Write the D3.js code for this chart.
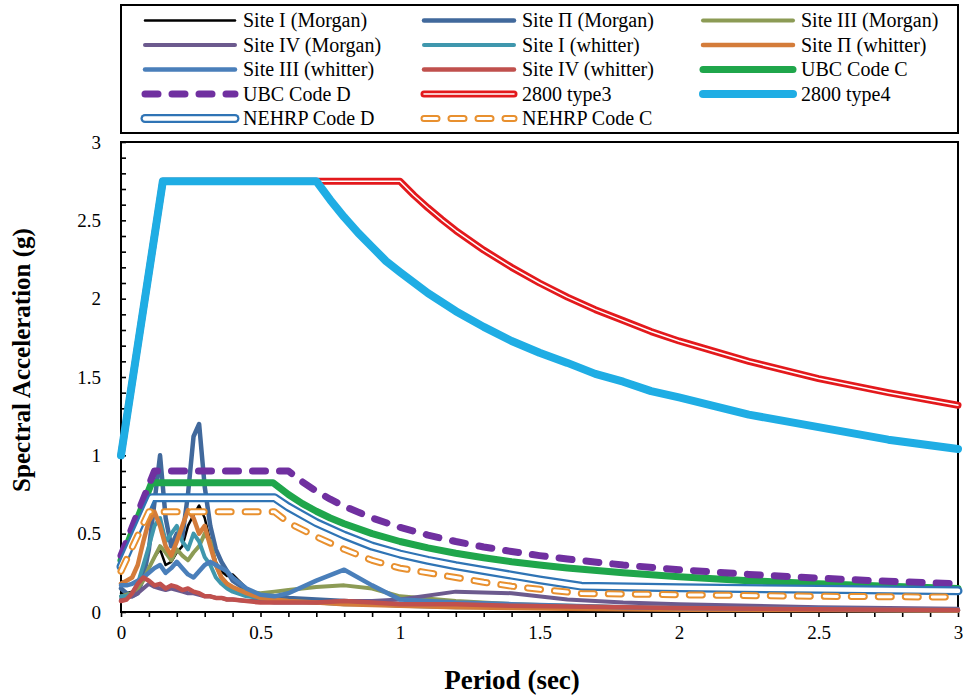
<!DOCTYPE html>
<html>
<head>
<meta charset="utf-8">
<script src="https://cdn.jsdelivr.net/npm/d3@7"></script>
<style>
  body { margin: 0; background: #fff; }
  svg text { font-family: "Liberation Serif", "Times New Roman", Times, "DejaVu Serif", serif; fill: #000; }
</style>
</head>
<body>
<svg id="chart"></svg>
<script>
// periods of the recorded site spectra (sec)
var sitePeriods = [0, 0.02, 0.04, 0.06, 0.08, 0.1, 0.12, 0.14, 0.16, 0.18, 0.2, 0.22, 0.24, 0.26, 0.28, 0.3,
   0.32, 0.34, 0.36, 0.38, 0.4, 0.45, 0.5, 0.55, 0.6, 0.7, 0.8, 0.9, 1.0, 1.2, 1.4, 1.6, 1.8, 2.0, 2.5, 3.0];

// spectral acceleration (g)
var site1Morgan = [0.12, 0.12, 0.13, 0.15, 0.2, 0.28, 0.35, 0.4, 0.3, 0.32, 0.38, 0.42, 0.55, 0.62, 0.68, 0.6,
   0.45, 0.32, 0.26, 0.23, 0.24, 0.15, 0.11, 0.1, 0.09, 0.07, 0.06, 0.05, 0.04, 0.035, 0.03, 0.025, 0.02, 0.018, 0.014, 0.01];
var site2Morgan = [0.15, 0.12, 0.1, 0.12, 0.22, 0.4, 0.7, 1.0, 0.6, 0.42, 0.5, 0.48, 0.75, 1.12, 1.2, 0.8,
   0.55, 0.4, 0.32, 0.26, 0.2, 0.14, 0.11, 0.1, 0.09, 0.08, 0.07, 0.06, 0.05, 0.04, 0.035, 0.03, 0.025, 0.02, 0.015, 0.01];
var site3Morgan = [0.1, 0.11, 0.12, 0.15, 0.2, 0.28, 0.35, 0.42, 0.38, 0.33, 0.4, 0.36, 0.33, 0.38, 0.42, 0.5,
   0.45, 0.3, 0.22, 0.18, 0.15, 0.13, 0.12, 0.13, 0.14, 0.16, 0.17, 0.15, 0.1, 0.07, 0.05, 0.04, 0.03, 0.025, 0.02, 0.015];
var site4Morgan = [0.08, 0.09, 0.1, 0.12, 0.15, 0.18, 0.16, 0.15, 0.14, 0.15, 0.14, 0.13, 0.12, 0.12, 0.11, 0.1,
   0.1, 0.09, 0.09, 0.08, 0.08, 0.07, 0.07, 0.06, 0.06, 0.06, 0.07, 0.07, 0.08, 0.13, 0.12, 0.08, 0.06, 0.05, 0.03, 0.02];
var site1Whitter = [0.1, 0.1, 0.12, 0.18, 0.3, 0.42, 0.55, 0.6, 0.45, 0.5, 0.55, 0.45, 0.4, 0.5, 0.45, 0.35,
   0.3, 0.22, 0.18, 0.15, 0.13, 0.1, 0.09, 0.08, 0.07, 0.06, 0.05, 0.05, 0.04, 0.03, 0.03, 0.025, 0.02, 0.018, 0.014, 0.01];
var site2Whitter = [0.18, 0.2, 0.22, 0.3, 0.45, 0.58, 0.64, 0.55, 0.42, 0.36, 0.45, 0.55, 0.65, 0.6, 0.5, 0.55,
   0.42, 0.3, 0.22, 0.18, 0.16, 0.12, 0.09, 0.08, 0.07, 0.06, 0.05, 0.045, 0.04, 0.03, 0.025, 0.02, 0.018, 0.015, 0.012, 0.01];
var site3Whitter = [0.17, 0.17, 0.18, 0.2, 0.22, 0.25, 0.28, 0.3, 0.25, 0.28, 0.32, 0.28, 0.24, 0.22, 0.26, 0.3,
   0.32, 0.3, 0.28, 0.26, 0.22, 0.15, 0.11, 0.1, 0.12, 0.2, 0.27, 0.17, 0.08, 0.06, 0.05, 0.04, 0.03, 0.025, 0.02, 0.015];
var site4Whitter = [0.07, 0.08, 0.12, 0.18, 0.22, 0.2, 0.17, 0.18, 0.15, 0.17, 0.16, 0.14, 0.15, 0.13, 0.12, 0.1,
   0.1, 0.09, 0.09, 0.08, 0.08, 0.07, 0.06, 0.06, 0.06, 0.06, 0.07, 0.06, 0.05, 0.05, 0.04, 0.035, 0.03, 0.025, 0.018, 0.012];

// design code spectra
var ubcCPeriods = [0, 0.11, 0.545, 0.6, 0.65, 0.7, 0.75, 0.8, 0.9, 1.0, 1.1, 1.2, 1.3, 1.4, 1.5, 1.6, 1.8, 2.0, 2.25, 2.5, 2.75, 3.0];
var ubcCValues = [0.33, 0.825, 0.825, 0.75, 0.692, 0.643, 0.6, 0.563, 0.5, 0.45, 0.409, 0.375, 0.346, 0.321, 0.3, 0.281, 0.25, 0.225, 0.2, 0.18, 0.164, 0.15];
var ubcDPeriods = [0, 0.12, 0.6, 0.65, 0.7, 0.75, 0.8, 0.9, 1.0, 1.1, 1.2, 1.3, 1.4, 1.5, 1.6, 1.8, 2.0, 2.25, 2.5, 2.75, 3.0];
var ubcDValues = [0.36, 0.9, 0.9, 0.831, 0.771, 0.72, 0.675, 0.6, 0.54, 0.491, 0.45, 0.415, 0.386, 0.36, 0.338, 0.3, 0.27, 0.24, 0.216, 0.196, 0.18];
var type3Periods = [0, 0.15, 1.0, 1.05, 1.1, 1.15, 1.2, 1.3, 1.4, 1.5, 1.6, 1.7, 1.8, 1.9, 2.0, 2.25, 2.5, 2.75, 3.0];
var type3Values = [1.0, 2.75, 2.75, 2.66, 2.58, 2.505, 2.435, 2.31, 2.2, 2.1, 2.01, 1.93, 1.86, 1.79, 1.73, 1.6, 1.49, 1.4, 1.32];
var type4Periods = [0, 0.15, 0.7, 0.75, 0.8, 0.85, 0.9, 0.95, 1.0, 1.1, 1.2, 1.3, 1.4, 1.5, 1.6, 1.7, 1.8, 1.9, 2.0, 2.25, 2.5, 2.75, 3.0];
var type4Values = [1.0, 2.75, 2.75, 2.63, 2.52, 2.42, 2.33, 2.24, 2.17, 2.035, 1.92, 1.82, 1.73, 1.655, 1.59, 1.52, 1.47, 1.41, 1.37, 1.26, 1.18, 1.1, 1.04];
var nehrpDPeriods = [0, 0.11, 0.55, 0.6, 0.7, 0.8, 0.9, 1.0, 1.1, 1.2, 1.3, 1.4, 1.5, 1.65, 2.0, 2.5, 3.0];
var nehrpDValues = [0.29, 0.73, 0.73, 0.67, 0.57, 0.49, 0.42, 0.37, 0.33, 0.295, 0.265, 0.235, 0.205, 0.165, 0.155, 0.145, 0.135];
var nehrpCPeriods = [0, 0.1, 0.55, 0.6, 0.7, 0.8, 0.9, 1.0, 1.1, 1.2, 1.3, 1.4, 1.5, 1.65, 2.0, 2.5, 3.0];
var nehrpCValues = [0.26, 0.64, 0.64, 0.57, 0.48, 0.4, 0.33, 0.28, 0.25, 0.22, 0.19, 0.165, 0.145, 0.118, 0.11, 0.1, 0.095];

var xTickLabels = ["0", "0.5", "1", "1.5", "2", "2.5", "3"];
var yTickLabels = ["0", "0.5", "1", "1.5", "2", "2.5", "3"];

// series table in legend order (later ones drawn on top)
var series = [
   { name: "Site I (Morgan)", t: sitePeriods, v: site1Morgan, color: "#000000", width: 2.5 },
   { name: "Site \u03A0 (Morgan)", t: sitePeriods, v: site2Morgan, color: "#41699c", width: 4.5 },
   { name: "Site III (Morgan)", t: sitePeriods, v: site3Morgan, color: "#8c9b55", width: 4 },
   { name: "Site IV (Morgan)", t: sitePeriods, v: site4Morgan, color: "#6c5a8e", width: 4 },
   { name: "Site I (whitter)", t: sitePeriods, v: site1Whitter, color: "#3f97ad", width: 4 },
   { name: "Site \u03A0 (whitter)", t: sitePeriods, v: site2Whitter, color: "#d47c3a", width: 4.5 },
   { name: "Site III (whitter)", t: sitePeriods, v: site3Whitter, color: "#4a7fba", width: 4.5 },
   { name: "Site IV (whitter)", t: sitePeriods, v: site4Whitter, color: "#c0504d", width: 4.5 },
   { name: "UBC Code C", t: ubcCPeriods, v: ubcCValues, color: "#1fa64b", width: 7 },
   { name: "UBC Code D", t: ubcDPeriods, v: ubcDValues, color: "#7030a0", width: 7, dash: "13,14" },
   { name: "2800 type3", t: type3Periods, v: type3Values, color: "#e3191c", width: 7, inner: 1.5 },
   { name: "2800 type4", t: type4Periods, v: type4Values, color: "#1fade4", width: 8 },
   { name: "NEHRP Code D", t: nehrpDPeriods, v: nehrpDValues, color: "#2f74b5", width: 9, inner: 4.5 },
   { name: "NEHRP Code C", t: nehrpCPeriods, v: nehrpCValues, color: "#e8902f", width: 7, inner: 3, dash: "13,14" }
];

var serif = "'Liberation Serif', 'Times New Roman', Times, 'DejaVu Serif', serif";
var svgWidth = 963, svgHeight = 697;
var margin = { top: 142, right: 5, bottom: 85, left: 121 };
var width = svgWidth - margin.left - margin.right,
   height = svgHeight - margin.top - margin.bottom;

var svg = d3.select("svg#chart")
   .attr("width", svgWidth).attr("height", svgHeight)
   .attr("font-family", serif);
var plot = svg.append("g").attr("transform", `translate(${margin.left}, ${margin.top})`);

var x = d3.scaleLinear().domain([0, 3]).range([0, width]);
var y = d3.scaleLinear().domain([0, 3]).range([height, 0]);

var minorTicks = d3.range(0, 31).map(function (i) { return i / 10; });
var majorTicks = xTickLabels.map(Number);

// X axis: outward ticks every 0.1, labels every 0.5
plot.append("g")
   .attr("transform", "translate(0," + height + ")")
   .call(d3.axisBottom(x).tickValues(minorTicks).tickSize(5).tickFormat(""))
   .call(function (g) { g.select(".domain").remove(); });
plot.append("g")
   .attr("transform", "translate(0," + height + ")")
   .call(d3.axisBottom(x).tickValues(majorTicks).tickSize(0).tickPadding(14)
      .tickFormat(function (d, i) { return xTickLabels[i]; }))
   .call(function (g) {
      g.attr("font-family", serif).attr("font-size", 19);
      g.select(".domain").remove();
   });

// Y axis: inward ticks every 0.1, labels every 0.5
plot.append("g")
   .call(d3.axisLeft(y).tickValues(minorTicks).tickSize(-5).tickFormat(""))
   .call(function (g) { g.select(".domain").remove(); });
plot.append("g")
   .call(d3.axisLeft(y).tickValues(yTickLabels.map(Number)).tickSize(0).tickPadding(20)
      .tickFormat(function (d, i) { return yTickLabels[i]; }))
   .call(function (g) {
      g.attr("font-family", serif).attr("font-size", 19);
      g.select(".domain").remove();
   });
plot.selectAll(".tick line").attr("stroke", "#000").attr("stroke-width", 1.6);

// plot frame
plot.append("rect")
   .attr("width", width).attr("height", height)
   .attr("fill", "none").attr("stroke", "#000").attr("stroke-width", 2);

var line = d3.line()
   .x(function (d) { return x(d[0]); })
   .y(function (d) { return y(d[1]); });

function drawStroke(sel, s) {
   sel.attr("fill", "none")
      .attr("stroke", s.color)
      .attr("stroke-width", s.width)
      .attr("stroke-linejoin", "round")
      .attr("stroke-linecap", "round");
   if (s.dash) sel.attr("stroke-dasharray", s.dash);
}

series.forEach(function (s) {
   var pts = s.t.map(function (t, i) { return [t, s.v[i]]; });
   plot.append("path").datum(pts).attr("d", line).call(drawStroke, s);
   if (s.inner) {
      plot.append("path").datum(pts).attr("d", line)
         .call(drawStroke, { color: "#fff", width: s.inner, dash: s.dash });
   }
});

// axis titles
svg.append("text")
   .attr("x", 512).attr("y", 689)
   .attr("text-anchor", "middle")
   .attr("font-weight", "bold").attr("font-size", 27)
   .text("Period (sec)");
svg.append("text")
   .attr("transform", "translate(30, 360) rotate(-90)")
   .attr("text-anchor", "middle")
   .attr("font-weight", "bold").attr("font-size", 25)
   .text("Spectral Acceleration (g)");

// legend box, 3 columns
var legend = svg.append("g");
legend.append("rect")
   .attr("x", 121).attr("y", 5).attr("width", 837).attr("height", 128)
   .attr("fill", "#fff").attr("stroke", "#000").attr("stroke-width", 2);

var colX = [145, 424, 703];
series.forEach(function (s, i) {
   var cx = colX[i % 3], cy = 20.5 + Math.floor(i / 3) * 24.5;
   var item = legend.append("g").attr("transform", `translate(${cx}, ${cy})`);
   item.append("path").attr("d", "M0,0H90").call(drawStroke, s);
   if (s.inner) item.append("path").attr("d", "M0,0H90").call(drawStroke, { color: "#fff", width: s.inner, dash: s.dash });
   item.append("text").attr("x", 98).attr("y", 6.5).attr("font-size", 20).text(s.name);
});
</script>
</body>
</html>
